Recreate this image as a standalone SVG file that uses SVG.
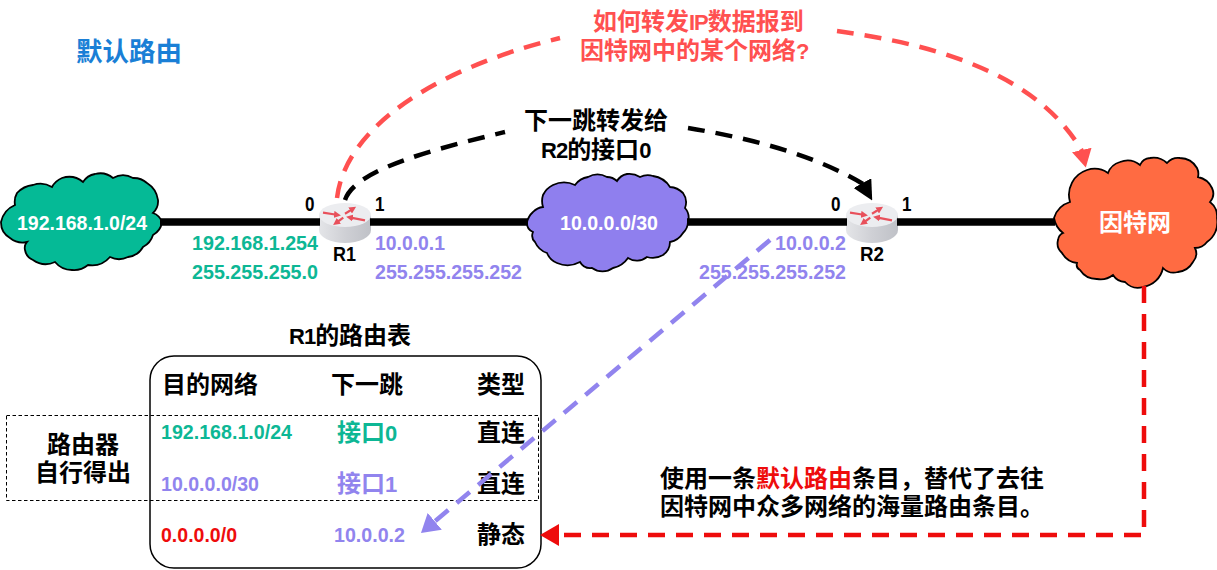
<svg xmlns="http://www.w3.org/2000/svg" xmlns:xlink="http://www.w3.org/1999/xlink" width="1217" height="570" viewBox="0 0 1217 570">
<style>
text{font-family:"Liberation Sans","Noto Sans CJK SC",sans-serif;font-weight:700;fill:#000}
.ip{font-size:21px}.cn{font-size:24px}.w{fill:#fff}.g{fill:#0DB795}.p{fill:#9184EE}.r{fill:#EE0C0C}.c{fill:#FF5050}
.la{font-size:22px;letter-spacing:-1px}
.m{text-anchor:middle}.e{text-anchor:end}
.cloud{stroke:#000;stroke-width:1.8}
.link{stroke:#000;stroke-width:7.6;fill:none}
.dash{fill:none;stroke-width:4.5;stroke-dasharray:17 11}
</style>
<defs>
<linearGradient id="body" x1="0" x2="1" y1="0" y2="0"><stop offset="0" stop-color="#E4E5E8"/><stop offset=".5" stop-color="#CFD0D5"/><stop offset="1" stop-color="#BFC1C7"/></linearGradient>
<marker id="ra" markerUnits="userSpaceOnUse" markerWidth="7" markerHeight="7" refX="1" refY="3.5" orient="auto"><path d="M0 0L7 3.500L0 7z" fill="#E8505B"/></marker>
<marker id="hB" markerUnits="userSpaceOnUse" markerWidth="20" markerHeight="20" refX="1" refY="10" orient="61"><path d="M0 0L20 10L0 20z" fill="#000"/></marker>
<marker id="hC" markerUnits="userSpaceOnUse" markerWidth="18" markerHeight="20" refX="1" refY="10" orient="77"><path d="M0 0L18 10L0 20z" fill="#FF5050"/></marker>
<marker id="hP" markerUnits="userSpaceOnUse" markerWidth="18" markerHeight="22" refX="1" refY="11" orient="auto"><path d="M0 0L18 11L0 22z" fill="#9184EE"/></marker>
<marker id="hR" markerUnits="userSpaceOnUse" markerWidth="19" markerHeight="22" refX="1" refY="11" orient="auto"><path d="M0 0L19 11L0 22z" fill="#EE0C0C"/></marker>
<g id="router">
<path d="M-26 0V15A26 13 0 0 0 26 15V0z" fill="url(#body)"/>
<ellipse cx="0" cy="0" rx="26" ry="12" fill="#ECEDF0"/>
<g stroke="#E8505B" stroke-width="2.2" fill="none">
<path d="M-22 -2.3L-10 -.5" marker-end="url(#ra)"/><path d="M0 -1.3L6 -5" marker-end="url(#ra)"/><path d="M20 5.300L7 2.800" marker-end="url(#ra)"/><path d="M-1.700 2.700L-7 6.500" marker-end="url(#ra)"/>
</g>
</g>
</defs>
<rect width="1217" height="570" fill="#fff"/>
<text id="title" x="76" y="61" style="fill:#1A7FD6;font-size:26.500px">默认路由</text>
<g id="question"><text class="c cn" x="593" y="30">如何转发<tspan class="la">IP</tspan>数据报到</text><text class="c cn" x="580" y="59">因特网中的某个网络<tspan class="la">?</tspan></text></g>
<g id="hint"><text class="cn" x="524" y="129">下一跳转发给</text><text class="cn" x="541" y="158"><tspan class="la">R2</tspan>的接口<tspan class="la">0</tspan></text></g>
<g id="net1">
<path class="cloud" fill="#05BA96" d="M1 222A24 24 0 0 1 15 205A18 18 0 0 1 17 193A26 26 0 0 1 33 185A22 22 0 0 1 52 187A20 20 0 0 1 62 178A22 22 0 0 1 83 182A18 18 0 0 1 95 174A20 20 0 0 1 113 178A20 20 0 0 1 133 178A20 20 0 0 1 147 183A24 24 0 0 1 158 200A16 16 0 0 1 153 213A15 15 0 0 1 162 222A18 18 0 0 1 153 235A20 20 0 0 1 143 247A20 20 0 0 1 128 257A20 20 0 0 1 110 257A24 24 0 0 1 88 265A22 22 0 0 1 72 270A22 22 0 0 1 55 262A22 22 0 0 1 33 260A13 13 0 0 1 25 250A9 9 0 0 1 27 242A20 20 0 0 1 10 238A18 18 0 0 1 1 222Z"/>
<text class="w ip" x="17" y="230" textLength="130" lengthAdjust="spacingAndGlyphs">192.168.1.0/24</text></g>
<g id="net2">
<path class="cloud" fill="#8F7FEE" d="M527 222A20 20 0 0 1 533 212A16 16 0 0 1 543 207A20 20 0 0 1 543 195A22 22 0 0 1 553 185A26 26 0 0 1 575 185A20 20 0 0 1 588 177A20 20 0 0 1 607 177A15 15 0 0 1 617 181A15 15 0 0 1 627 174A20 20 0 0 1 640 177A18 18 0 0 1 653 176A24 24 0 0 1 670 187A20 20 0 0 1 683 193A16 16 0 0 1 685 208A15 15 0 0 1 688 222A16 16 0 0 1 683 233A20 20 0 0 1 670 242A16 16 0 0 1 663 255A20 20 0 0 1 647 257A16 16 0 0 1 628 258A24 24 0 0 1 613 268A18 18 0 0 1 592 268A12 12 0 0 1 580 262A26 26 0 0 1 557 263A18 18 0 0 1 547 253A20 20 0 0 1 535 242A9 9 0 0 1 533 232A10 10 0 0 1 527 222Z"/>
<text class="w ip" x="560" y="230" textLength="98" lengthAdjust="spacingAndGlyphs">10.0.0.0/30</text></g>
<g id="internet">
<path class="cloud" fill="#FF6B42" d="M1054 218A24 24 0 0 1 1070 202A26 26 0 0 1 1087 170A24 24 0 0 1 1108 173A18 18 0 0 1 1120 162A20 20 0 0 1 1140 165A12 12 0 0 1 1150 158A20 20 0 0 1 1167 163A15 15 0 0 1 1180 158A20 20 0 0 1 1197 168A13 13 0 0 1 1198 177A20 20 0 0 1 1212 188A13 13 0 0 1 1210 202A18 18 0 0 1 1217 218A24 24 0 0 1 1207 242A15 15 0 0 1 1195 248A13 13 0 0 1 1193 262A20 20 0 0 1 1178 272A15 15 0 0 1 1163 268A24 24 0 0 1 1143 287A18 18 0 0 1 1125 282A15 15 0 0 1 1113 275A20 20 0 0 1 1097 279A20 20 0 0 1 1080 270A6 6 0 0 1 1077 263A20 20 0 0 1 1062 253A13 13 0 0 1 1058 240A9 9 0 0 1 1063 233A24 24 0 0 1 1054 218Z"/>
<text class="m w cn" x="1135" y="231">因特网</text></g>
<g id="R1"><use xlink:href="#router" href="#router" x="345" y="215"/><text x="333" y="261" font-size="20" textLength="23" lengthAdjust="spacingAndGlyphs">R1</text><text class="ip" x="305" y="211" textLength="9.500" lengthAdjust="spacingAndGlyphs">0</text><text class="ip" x="375" y="211" textLength="9.500" lengthAdjust="spacingAndGlyphs">1</text>
<text class="ip g" x="192" y="250" textLength="126" lengthAdjust="spacingAndGlyphs">192.168.1.254</text><text class="ip g" x="192" y="279" textLength="126" lengthAdjust="spacingAndGlyphs">255.255.255.0</text>
<text class="ip p" x="375" y="250" textLength="70" lengthAdjust="spacingAndGlyphs">10.0.0.1</text><text class="ip p" x="375" y="279" textLength="147" lengthAdjust="spacingAndGlyphs">255.255.255.252</text></g>
<g id="R2"><use xlink:href="#router" href="#router" x="872" y="215"/><text x="860" y="261" font-size="20" textLength="24" lengthAdjust="spacingAndGlyphs">R2</text><text class="ip" x="831" y="211" textLength="9.500" lengthAdjust="spacingAndGlyphs">0</text><text class="ip" x="902" y="211" textLength="9.500" lengthAdjust="spacingAndGlyphs">1</text>
<text class="ip p" x="775" y="250" textLength="71" lengthAdjust="spacingAndGlyphs">10.0.0.2</text><text class="ip p" x="699" y="279" textLength="147" lengthAdjust="spacingAndGlyphs">255.255.255.252</text></g>
<g id="table">
<text class="cn" x="289" y="344"><tspan class="la">R1</tspan>的路由表</text>
<rect x="150" y="356" width="391" height="212" rx="24" fill="none" stroke="#000" stroke-width="1.5"/>
<text class="cn" x="162" y="393">目的网络</text><text class="m cn" x="367" y="393">下一跳</text><text class="m cn" x="501" y="393">类型</text>
<text class="ip g" x="161" y="439" textLength="131" lengthAdjust="spacingAndGlyphs">192.168.1.0/24</text><text class="cn g" x="337" y="441">接口<tspan class="la">0</tspan></text><text class="m cn" x="501" y="441">直连</text>
<text class="ip p" x="161" y="491" textLength="98" lengthAdjust="spacingAndGlyphs">10.0.0.0/30</text><text class="cn p" x="337" y="492">接口<tspan class="la">1</tspan></text><text class="m cn" x="501" y="492">直连</text>
<text class="ip r" x="161" y="542" textLength="76" lengthAdjust="spacingAndGlyphs">0.0.0.0/0</text><text class="ip p" x="334" y="542" textLength="71" lengthAdjust="spacingAndGlyphs">10.0.0.2</text><text class="m cn" x="501" y="543">静态</text>
</g>
<g id="selflearned">
<rect x="6.500" y="415.500" width="532" height="85" fill="none" stroke="#000" stroke-width="1" stroke-dasharray="3.500 2.500"/>
<text class="m cn" x="83" y="453">路由器</text><text class="m cn" x="83" y="481">自行得出</text>
</g>
<g id="note"><text class="cn" x="660" y="487">使用一条<tspan class="r">默认路由</tspan>条目，替代了去往</text><text class="cn" x="660" y="515">因特网中众多网络的海量路由条目。</text></g>
<g id="connectors">
<path class="link" d="M160 222H320M370 222H528M687 222H847M897 222H1055"/>
<path class="dash" stroke="#FF5050" d="M337 198C345 130 430 70 560 38"/>
<path class="dash" stroke="#FF5050" marker-end="url(#hC)" d="M837 31C925 43 1035 70 1082 151"/>
<path class="dash" stroke="#000" d="M345 200C355 170 430 150 505 132"/>
<path class="dash" stroke="#000" marker-end="url(#hB)" d="M688 128C750 138 815 155 863 184"/>
<path class="dash" stroke="#9184EE" marker-end="url(#hP)" d="M770 240L434 522"/>
<path class="dash" stroke="#EE0C0C" marker-end="url(#hR)" d="M1144 286V535H558"/>
</g>
</svg>
